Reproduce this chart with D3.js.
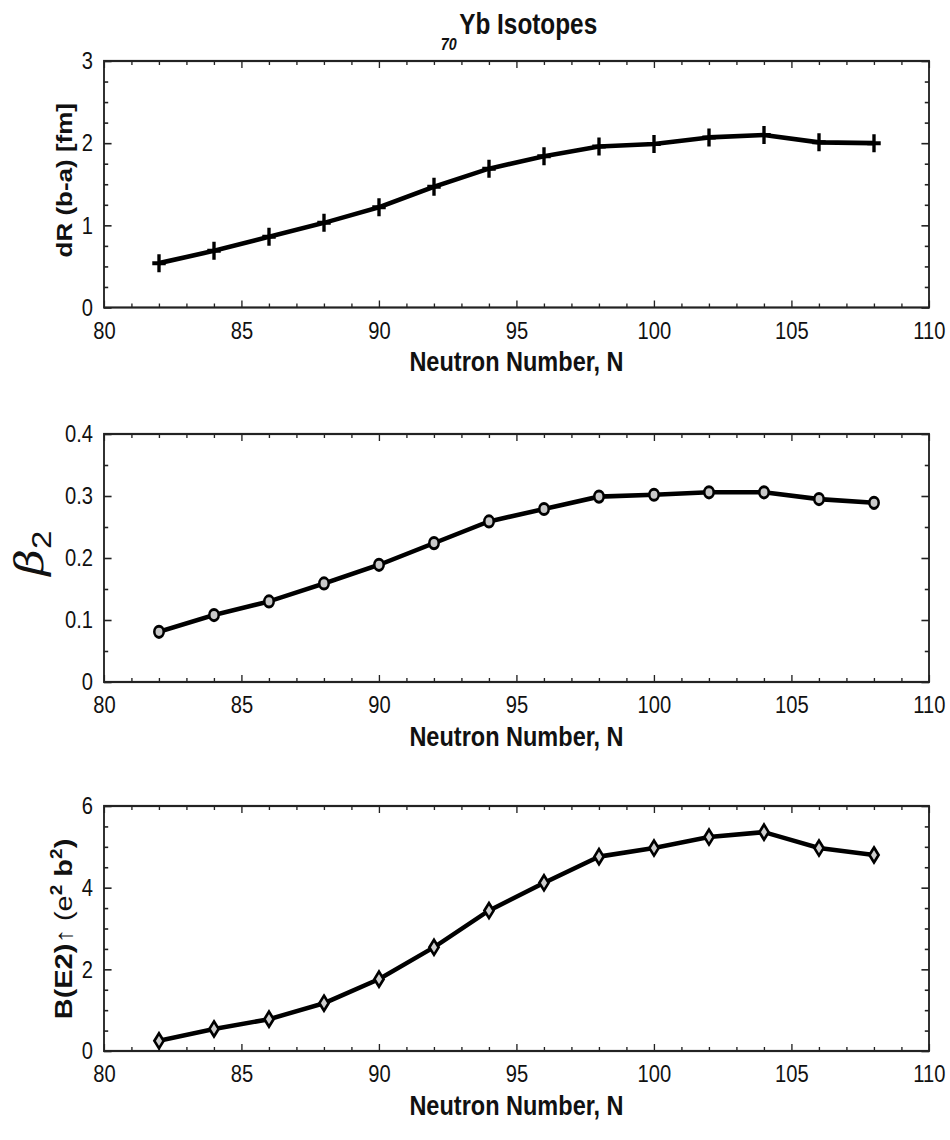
<!DOCTYPE html>
<html>
<head>
<meta charset="utf-8">
<script src="https://cdn.jsdelivr.net/npm/d3@7"></script>
<style>
  html, body { margin: 0; padding: 0; background: #fff; }
  svg { display: block; }
  text { font-family: "Liberation Sans", Arial, sans-serif; fill: #111; }
</style>
</head>
<body>
<svg id="chart" width="950" height="1140"></svg>
<script>
// ---------- data ----------
const neutronN = [82, 84, 86, 88, 90, 92, 94, 96, 98, 100, 102, 104, 106, 108];
const dR       = [0.54, 0.69, 0.86, 1.03, 1.22, 1.47, 1.69, 1.84, 1.96, 1.99, 2.07, 2.10, 2.01, 2.00];
const beta2    = [0.081, 0.108, 0.130, 0.159, 0.189, 0.224, 0.259, 0.279, 0.299, 0.302, 0.306, 0.306, 0.295, 0.289];
const BE2      = [0.25, 0.54, 0.78, 1.17, 1.76, 2.54, 3.44, 4.12, 4.76, 4.97, 5.24, 5.36, 4.97, 4.80];

const xTickValues   = [80, 85, 90, 95, 100, 105, 110];
const dRTicks       = [0, 1, 2, 3];
const beta2Ticks    = [0, 0.1, 0.2, 0.3, 0.4];
const beta2TickText = ["0", "0.1", "0.2", "0.3", "0.4"];
const BE2Ticks      = [0, 2, 4, 6];

const titleSub  = "70";
const titleMain = "Yb Isotopes";
const xTitle    = "Neutron Number, N";

// ---------- layout ----------
const SX = 0.84;                 // horizontal squeeze of the original figure
const svg = d3.select("#chart");
const root = svg.append("g").attr("transform", `scale(${SX},1)`);
const L = 104 / SX, R = 929 / SX;

const x = d3.scaleLinear().domain([80, 110]).range([L, R]);

const panels = [
  { top: 61,  bottom: 307.5, domain: [0, 3],   major: dRTicks,    fmt: d => String(d), minorStep: 0.25, values: dR,    marker: "plus" },
  { top: 434, bottom: 682,   domain: [0, 0.4], major: beta2Ticks, fmt: (d, i) => beta2TickText[i], minorStep: 0.05, values: beta2, marker: "circle" },
  { top: 806, bottom: 1051,  domain: [0, 6],   major: BE2Ticks,   fmt: d => String(d), minorStep: 0.5,  values: BE2,   marker: "diamond" }
];

const markerPaths = {
  plus: "M-8,0H8M0,-9V9",
  diamond: "M0,-7.5L5.5,0L0,7.5L-5.5,0Z"
};

panels.forEach((p, pi) => {
  const y = d3.scaleLinear().domain(p.domain).range([p.bottom, p.top]);
  const g = root.append("g");

  const xMinor = d3.range(80, 111).filter(v => v % 5 !== 0);
  const nMinor = Math.round((p.domain[1] - p.domain[0]) / p.minorStep);
  const yMinor = d3.range(0, nMinor + 1).map(i => p.domain[0] + i * p.minorStep)
                   .filter(v => !p.major.some(m => Math.abs(m - v) < 1e-9));

  const styleAxis = sel => {
    sel.select(".domain").remove();
    sel.selectAll("line").attr("stroke", "#222").attr("stroke-width", 1.6);
  };

  // bottom
  g.append("g").attr("transform", `translate(0,${p.bottom})`)
    .call(d3.axisBottom(x).tickValues(xTickValues).tickSizeInner(-7).tickSizeOuter(0).tickPadding(14).tickFormat(d3.format("d")))
    .call(styleAxis)
    .call(s => s.selectAll("text").attr("font-size", 24).attr("font-family", "Liberation Sans, Arial, sans-serif").attr("fill", "#111"));
  g.append("g").attr("transform", `translate(0,${p.bottom})`)
    .call(d3.axisBottom(x).tickValues(xMinor).tickSizeInner(-4).tickSizeOuter(0).tickFormat(""))
    .call(styleAxis);
  // top
  g.append("g").attr("transform", `translate(0,${p.top})`)
    .call(d3.axisTop(x).tickValues(xTickValues).tickSizeInner(-7).tickSizeOuter(0).tickFormat(""))
    .call(styleAxis);
  g.append("g").attr("transform", `translate(0,${p.top})`)
    .call(d3.axisTop(x).tickValues(xMinor).tickSizeInner(-4).tickSizeOuter(0).tickFormat(""))
    .call(styleAxis);
  // left
  g.append("g").attr("transform", `translate(${L},0)`)
    .call(d3.axisLeft(y).tickValues(p.major).tickSizeInner(-9).tickSizeOuter(0).tickPadding(13).tickFormat(p.fmt))
    .call(styleAxis)
    .call(s => s.selectAll("text").attr("font-size", 24).attr("font-family", "Liberation Sans, Arial, sans-serif").attr("fill", "#111"));
  g.append("g").attr("transform", `translate(${L},0)`)
    .call(d3.axisLeft(y).tickValues(yMinor).tickSizeInner(-5).tickSizeOuter(0).tickFormat(""))
    .call(styleAxis);
  // right
  g.append("g").attr("transform", `translate(${R},0)`)
    .call(d3.axisRight(y).tickValues(p.major).tickSizeInner(-9).tickSizeOuter(0).tickFormat(""))
    .call(styleAxis);
  g.append("g").attr("transform", `translate(${R},0)`)
    .call(d3.axisRight(y).tickValues(yMinor).tickSizeInner(-5).tickSizeOuter(0).tickFormat(""))
    .call(styleAxis);

  // frame
  g.append("rect")
    .attr("x", L).attr("y", p.top).attr("width", R - L).attr("height", p.bottom - p.top)
    .attr("fill", "none").attr("stroke", "#222").attr("stroke-width", 2.2);

  // line
  const pts = neutronN.map((n, i) => [n, p.values[i]]);
  g.append("path")
    .datum(pts)
    .attr("d", d3.line().x(d => x(d[0])).y(d => y(d[1])))
    .attr("fill", "none").attr("stroke", "#000").attr("stroke-width", 4.6)
    .attr("stroke-linejoin", "round");

  // markers
  const mk = g.append("g").selectAll("g").data(pts).join("g")
    .attr("transform", d => `translate(${x(d[0])},${y(d[1])})`);
  if (p.marker === "plus") {
    mk.append("path").attr("d", markerPaths.plus).attr("fill", "none")
      .attr("stroke", "#000").attr("stroke-width", 4);
  } else if (p.marker === "circle") {
    mk.append("circle").attr("r", 5.6).attr("fill", "#c8c8c8")
      .attr("stroke", "#000").attr("stroke-width", 3);
  } else {
    mk.append("path").attr("d", markerPaths.diamond).attr("fill", "#cfcfcf")
      .attr("stroke", "#000").attr("stroke-width", 3).attr("stroke-linejoin", "miter");
  }

  // x axis title
  g.append("text")
    .attr("x", (L + R) / 2).attr("y", p.bottom + 64)
    .attr("text-anchor", "middle").attr("font-size", 28).attr("font-weight", "bold")
    .text(xTitle);
});

// ---------- y axis labels ----------
// panel 1
root.append("text")
  .attr("transform", `translate(${72 / SX},${(61 + 307.5) / 2 - 4}) rotate(-90)`)
  .attr("text-anchor", "middle").attr("font-size", 26).attr("font-weight", "bold")
  .text("dR (b-a) [fm]");

// panel 2 : beta_2
const bl = root.append("text")
  .attr("transform", `translate(${43 / SX},${553}) rotate(-90)`)
  .attr("text-anchor", "middle");
bl.append("tspan").attr("font-family", "DejaVu Serif, serif").attr("font-style", "italic")
  .attr("font-size", 46).text("β");
bl.append("tspan").attr("font-size", 33).attr("dy", 10).text("2");

// panel 3
const be = root.append("text")
  .attr("transform", `translate(${72 / SX},${929}) rotate(-90)`)
  .attr("text-anchor", "middle").attr("font-size", 29).attr("font-weight", "bold");
be.append("tspan").text("B(E2)");
be.append("tspan").attr("font-weight", "normal").text("↑ (e");
be.append("tspan").attr("font-size", 19).attr("dy", -12).text("2");
be.append("tspan").attr("dy", 12).text(" b");
be.append("tspan").attr("font-size", 19).attr("dy", -12).text("2");
be.append("tspan").attr("dy", 12).text(")");

// ---------- title ----------
const t = root.append("text")
  .attr("x", 519 / SX).attr("y", 34)
  .attr("text-anchor", "middle").attr("font-weight", "bold");
t.append("tspan").attr("font-size", 17).attr("font-style", "italic").attr("dy", 16).text(titleSub);
t.append("tspan").attr("font-size", 29).attr("dy", -16).attr("dx", 3).text(titleMain);
</script>
</body>
</html>
